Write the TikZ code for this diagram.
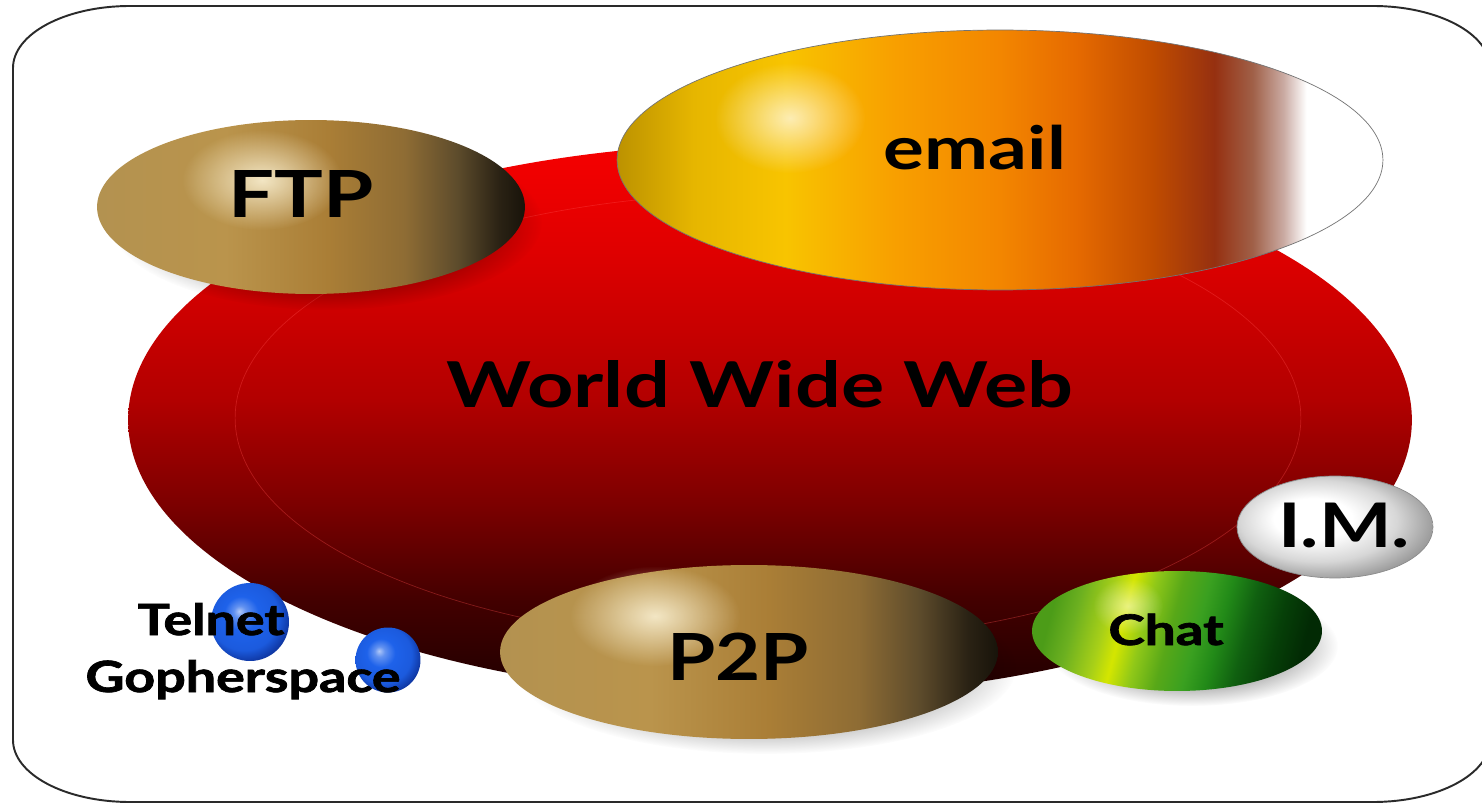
\documentclass[tikz,border=0pt]{standalone}
\usepackage{fontspec}
\setmainfont{Lato}
\newfontfamily\heavyfont[BoldFeatures={FakeBold=1.6}]{Lato}
\usepackage{graphicx}
\usetikzlibrary{shapes.geometric,fadings}

% palette
\definecolor{web1}{HTML}{F60000}
\definecolor{web2}{HTML}{E00000}
\definecolor{web3}{HTML}{B20000}
\definecolor{web4}{HTML}{7E0000}
\definecolor{web5}{HTML}{420000}
\definecolor{web6}{HTML}{1E0000}
\definecolor{em1}{HTML}{BC9200}
\definecolor{em2}{HTML}{E6B600}
\definecolor{em3}{HTML}{F8C400}
\definecolor{em4}{HTML}{F8A000}
\definecolor{em5}{HTML}{F38600}
\definecolor{em6}{HTML}{E66A00}
\definecolor{em7}{HTML}{C04C00}
\definecolor{em8}{HTML}{963010}
\definecolor{em9}{HTML}{A06048}
\definecolor{em10}{HTML}{CAAAA2}
\definecolor{tan1}{HTML}{B39250}
\definecolor{tan2}{HTML}{BA944C}
\definecolor{tan3}{HTML}{AA7E36}
\definecolor{tan4}{HTML}{8E6C34}
\definecolor{tan5}{HTML}{5E4C2C}
\definecolor{tan6}{HTML}{2A2214}
\definecolor{tan7}{HTML}{18130A}
\definecolor{tanglow}{HTML}{F6EBCB}
\definecolor{gr1}{HTML}{4C9C18}
\definecolor{gr2}{HTML}{6CB020}
\definecolor{gr3}{HTML}{A8D018}
\definecolor{gr4}{HTML}{D4E600}
\definecolor{gr5}{HTML}{90C818}
\definecolor{gr6}{HTML}{58A818}
\definecolor{gr7}{HTML}{3AA020}
\definecolor{gr8}{HTML}{228A18}
\definecolor{gr9}{HTML}{106010}
\definecolor{gr10}{HTML}{064008}
\definecolor{gr11}{HTML}{022A04}
\definecolor{imgray}{HTML}{8C8C8C}
\definecolor{sphereblue}{HTML}{1E62EA}
\definecolor{spheredeep}{HTML}{0C2F96}
\definecolor{framegray}{HTML}{2A2A2A}

% shadings (path box spans 25bp..75bp)
\pgfdeclareverticalshading{webshade}{100bp}{%
  color(0bp)=(web6); color(25bp)=(web6); color(33.6bp)=(web5);
  color(42.7bp)=(web4); color(51.8bp)=(web3); color(65.5bp)=(web2);
  color(75bp)=(web1); color(100bp)=(web1)}
\pgfdeclarehorizontalshading{emailshade}{100bp}{%
  color(0bp)=(em1); color(25bp)=(em1); color(30bp)=(em2); color(36bp)=(em3);
  color(43bp)=(em4); color(50bp)=(em5); color(55bp)=(em6); color(60bp)=(em7);
  color(64bp)=(em8); color(66.5bp)=(em9); color(68.5bp)=(em10);
  color(70bp)=(white); color(100bp)=(white)}
\pgfdeclarehorizontalshading{tanshade}{100bp}{%
  color(0bp)=(tan1); color(25bp)=(tan1); color(40bp)=(tan2); color(52bp)=(tan3);
  color(61bp)=(tan4); color(67bp)=(tan5); color(72bp)=(tan6);
  color(75bp)=(tan7); color(100bp)=(tan7)}
\pgfdeclarehorizontalshading{chatshade}{100bp}{%
  color(0bp)=(gr1); color(25bp)=(gr1); color(29.7bp)=(gr2); color(35.7bp)=(gr3);
  color(39.1bp)=(gr4); color(43.4bp)=(gr5); color(48.6bp)=(gr6); color(53.8bp)=(gr7);
  color(58.1bp)=(gr8); color(63.3bp)=(gr9); color(69.3bp)=(gr10);
  color(75bp)=(gr11); color(100bp)=(gr11)}
\pgfdeclareradialshading{imshade}{\pgfpoint{-7bp}{5bp}}{%
  color(0bp)=(white); color(10bp)=(white); color(20bp)=(imgray!35);
  color(28bp)=(imgray!85); color(34bp)=(imgray); color(50bp)=(imgray)}
\pgfdeclareradialshading{blueball}{\pgfpoint{-7bp}{7bp}}{%
  color(0bp)=(sphereblue!35!white); color(4bp)=(sphereblue!70!white);
  color(11bp)=(sphereblue); color(22bp)=(sphereblue!85!spheredeep);
  color(30bp)=(spheredeep); color(50bp)=(spheredeep)}

% fadings
\pgfdeclareradialshading{glowmask}{\pgfpointorigin}{%
  color(0bp)=(pgftransparent!0); color(25bp)=(pgftransparent!100);
  color(50bp)=(pgftransparent!100)}
\pgfdeclareradialshading{softmask}{\pgfpointorigin}{%
  color(0bp)=(pgftransparent!0); color(14bp)=(pgftransparent!0);
  color(25bp)=(pgftransparent!100); color(50bp)=(pgftransparent!100)}
\pgfdeclarefading{glow}{\pgfuseshading{glowmask}}
\pgfdeclarefading{softedge}{\pgfuseshading{softmask}}

\newcommand{\widetext}[2][1.25]{\scalebox{#1}[1]{#2}}

\begin{document}
\begin{tikzpicture}[x=0.02cm, y=-0.02cm,
  frame/.style={draw=framegray, line width=1.1pt},
  blob/.style={ellipse, inner sep=0pt, outer sep=0pt},
  shaded/.style={blob, shade, shading=#1},
  rim/.style={draw=#1, line width=0.4pt},
  dropshade/.style={fill=#1, path fading=softedge},
  highlight/.style={fill=#1, path fading=glow},
  sphere/.style={circle, inner sep=0pt, shade, shading=blueball},
  caption/.style={font=\bfseries, text=black, inner sep=0pt, anchor=base},
  heavy/.style={caption, font=\heavyfont\bfseries\fontsize{#1}{#1}\selectfont}]

\useasboundingbox (0,0) rectangle (1482,804);
\fill[white] (0,0) rectangle (1482,804);

% rounded frame
\draw[frame] (13,68) arc[start angle=180, end angle=270, x radius=117, y radius=62]
  -- (1373,6) arc[start angle=270, end angle=360, x radius=117, y radius=62]
  -- (1490,740) arc[start angle=0, end angle=90, x radius=117, y radius=62]
  -- (130,802) arc[start angle=90, end angle=180, x radius=117, y radius=62]
  -- cycle;

% centres
\coordinate (ftpc) at (311,207);
\coordinate (emailc) at (1000,160);
\coordinate (p2pc) at (749,652);
\coordinate (chatc) at (1177,631);
\coordinate (imc) at (1335,527);

% the web
\node[shaded=webshade, minimum width=25.68cm, minimum height=11.08cm] (web) at (770,420) {};
\node[blob, draw=red!70!white, draw opacity=0.35, line width=0.4pt,
      minimum width=21.32cm, minimum height=9cm] (webcore) at (768,418) {};
\node[caption, font=\bfseries\fontsize{36}{40}\selectfont] (wwwtext) at (760,408) {\widetext[1.28]{World Wide Web}};

% FTP
\fill[dropshade=black, opacity=0.45] (326,222) ellipse (216 and 88);
\node[shaded=tanshade, minimum width=8.56cm, minimum height=3.48cm] (ftp) at (ftpc) {};
\fill[highlight=tanglow, opacity=0.95] (262,180) ellipse (80 and 50);
\node[caption, font=\bfseries\fontsize{37}{42}\selectfont] (ftptext) at (301,218) {\widetext{FTP}};

% email
\node[shaded=emailshade, rim=black!55, minimum width=15.32cm, minimum height=5.2cm] (email) at (emailc) {};
\fill[highlight=white, opacity=0.7] (790,118) ellipse (75 and 55);
\node[caption, font=\bfseries\fontsize{34}{40}\selectfont] (emailtext) at (975,170) {\widetext[1.28]{email}};

% P2P
\fill[dropshade=black, opacity=0.4] (766,668) ellipse (250 and 86);
\node[shaded=tanshade, minimum width=9.96cm, minimum height=3.48cm] (p2p) at (p2pc) {};
\fill[highlight=tanglow, opacity=0.95] (655,616) ellipse (85 and 50);
\node[caption, font=\bfseries\fontsize{37}{42}\selectfont] (p2ptext) at (738,680) {\widetext[1.2]{P2P}};

% Chat
\fill[dropshade=black, opacity=0.4] (1192,646) ellipse (146 and 60);
\node[shaded=chatshade, shading angle=-15, minimum width=5.8cm, minimum height=2.4cm] (chat) at (chatc) {};
\fill[highlight=white, opacity=0.5] (1128,606) ellipse (35 and 28);
\node[heavy=24] (chattext) at (1166,645) {\widetext[1.3]{Chat}};

% I.M.
\node[shaded=imshade, rim=imgray, minimum width=3.92cm, minimum height=2.04cm] (im) at (imc) {};
\node[caption, font=\bfseries\fontsize{35}{40}\selectfont] (imtext) at (1344,547) {\widetext{I.M.}};

% small spheres
\node[sphere, minimum size=1.56cm] (telnetball) at (250,622) {};
\node[sphere, minimum size=1.3cm] (gopherball) at (388,660) {};
\node[heavy=24.5] (telnettext) at (211,635) {\widetext{Telnet}};
\node[heavy=24.5] (gophertext) at (243,692) {\widetext{Gopherspace}};
\end{tikzpicture}
\end{document}
